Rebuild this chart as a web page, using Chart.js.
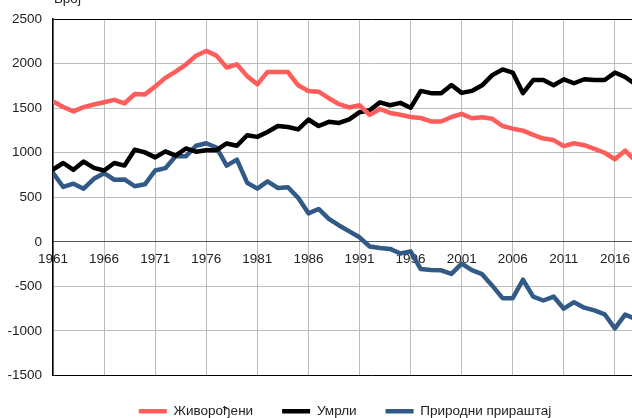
<!DOCTYPE html>
<html>
<head>
<meta charset="utf-8">
<script src="https://cdn.jsdelivr.net/npm/chart.js@4.4.1/dist/chart.umd.min.js"></script>
<style>
  html, body { margin: 0; padding: 0; background: #fff; }
  #wrap { width: 632px; height: 418px; overflow: hidden; position: relative; }
</style>
</head>
<body>
<div id="wrap">
  <canvas id="myChart" width="690" height="428"></canvas>
</div>
<script>
// Données du graphique
const years = [
  1961, 1962, 1963, 1964, 1965, 1966, 1967, 1968, 1969, 1970,
  1971, 1972, 1973, 1974, 1975, 1976, 1977, 1978, 1979, 1980,
  1981, 1982, 1983, 1984, 1985, 1986, 1987, 1988, 1989, 1990,
  1991, 1992, 1993, 1994, 1995, 1996, 1997, 1998, 1999, 2000,
  2001, 2002, 2003, 2004, 2005, 2006, 2007, 2008, 2009, 2010,
  2011, 2012, 2013, 2014, 2015, 2016, 2017, 2018
];

const births = [
  1575, 1513, 1464, 1512, 1541, 1567, 1594, 1554, 1659, 1655,
  1743, 1840, 1910, 1990, 2088, 2143, 2090, 1957, 1993, 1860,
  1768, 1907, 1907, 1905, 1757, 1694, 1685, 1612, 1545, 1508,
  1533, 1425, 1491, 1447, 1427, 1401, 1390, 1352, 1350, 1401,
  1436, 1387, 1399, 1381, 1300, 1270, 1248, 1200, 1159, 1142,
  1074, 1107, 1085, 1044, 1000, 927, 1023, 910
];

const deaths = [
  812, 885, 808, 901, 830, 801, 885, 856, 1034, 1004,
  948, 1015, 967, 1048, 1012, 1029, 1029, 1104, 1078, 1196,
  1178, 1233, 1300, 1289, 1262, 1373, 1300, 1347, 1335, 1375,
  1455, 1477, 1565, 1533, 1560, 1504, 1694, 1669, 1669, 1761,
  1672, 1694, 1757, 1871, 1935, 1900, 1669, 1816, 1816, 1757,
  1824, 1780, 1825, 1816, 1816, 1900, 1850, 1770
];

const naturalIncrease = [
  775, 616, 653, 597, 708, 771, 697, 701, 624, 646,
  801, 827, 960, 960, 1078, 1107, 1059, 856, 923, 664,
  597, 679, 605, 613, 494, 320, 369, 258, 184, 117,
  51, -52, -68, -79, -130, -107, -305, -315, -320, -360,
  -245, -318, -363, -492, -632, -632, -425, -614, -658, -614,
  -750, -677, -739, -769, -813, -972, -817, -865
];

const xTicks = [1961, 1966, 1971, 1976, 1981, 1986, 1991, 1996, 2001, 2006, 2011, 2016, 2021];
const yTitleText = "Број";

const seriesNames = ["Живорођени", "Умрли", "Природни прираштај"];
const seriesColors = ["#ff5c5c", "#000000", "#325a86"];

const font = { family: "'Liberation Sans', Arial, sans-serif", size: 13.5 };

// Transforme une série en points {x, y}
function toPoints(values) {
  return values.map((v, i) => ({ x: years[i], y: v }));
}

const allSeries = [births, deaths, naturalIncrease];

const data = {
  datasets: allSeries.map((values, i) => ({
    label: seriesNames[i],
    data: toPoints(values),
    borderColor: seriesColors[i],
    backgroundColor: seriesColors[i],
    borderWidth: 4.5,
    borderJoinStyle: "round",
    borderCapStyle: "round",
    pointRadius: 0,
    tension: 0,
    fill: false,
  })),
};

// Titre de l'axe Y, en haut à gauche (coupé par le bord)
const yTitlePlugin = {
  id: "yTitle",
  afterDraw(chart) {
    const ctx = chart.ctx;
    ctx.save();
    ctx.font = font.size + "px " + font.family;
    ctx.fillStyle = "#222";
    ctx.textBaseline = "alphabetic";
    ctx.textAlign = "left";
    ctx.fillText(yTitleText, chart.chartArea.left + 1, chart.chartArea.top - 16);
    ctx.restore();
  },
};

const myChart = new Chart(document.getElementById("myChart"), {
  type: "line",
  data,
  plugins: [yTitlePlugin],
  options: {
    responsive: false,
    animation: false,
    devicePixelRatio: 1,
    layout: {
      padding: { top: 15, left: 0, right: 0, bottom: 0 },
    },
    plugins: {
      tooltip: { enabled: false },
      legend: {
        position: "bottom",
        labels: {
          usePointStyle: true,
          pointStyle: "line",
          pointStyleWidth: 28,
          padding: 29,
          color: "#222",
          font,
        },
      },
    },
    scales: {
      x: {
        type: "linear",
        position: { y: 0 },
        min: 1961,
        max: 2023.3,
        afterBuildTicks: (scale) => {
          scale.ticks = xTicks.map((v) => ({ value: v }));
        },
        ticks: {
          color: "#222",
          font,
          padding: 9,
          maxRotation: 0,
          autoSkip: false,
          callback: (value) => String(value),
        },
        grid: {
          color: "#bdbdbd",
          lineWidth: 1,
          drawTicks: false,
        },
        border: { color: "#555", width: 1 },
      },
      y: {
        min: -1500,
        max: 2500,
        afterFit: (scale) => {
          scale.width = 53;
        },
        ticks: {
          stepSize: 500,
          color: "#222",
          font,
          padding: 11,
          callback: (value) => String(value),
        },
        grid: {
          drawTicks: false,
          lineWidth: 1,
          color: (ctx) => {
            const v = ctx.tick.value;
            if (v === 2500 || v === -1500) return "#000";
            if (v === 0) return "#555";
            return "#bdbdbd";
          },
        },
        border: { color: "#000", width: 1.5 },
      },
    },
  },
});
</script>
</body>
</html>
